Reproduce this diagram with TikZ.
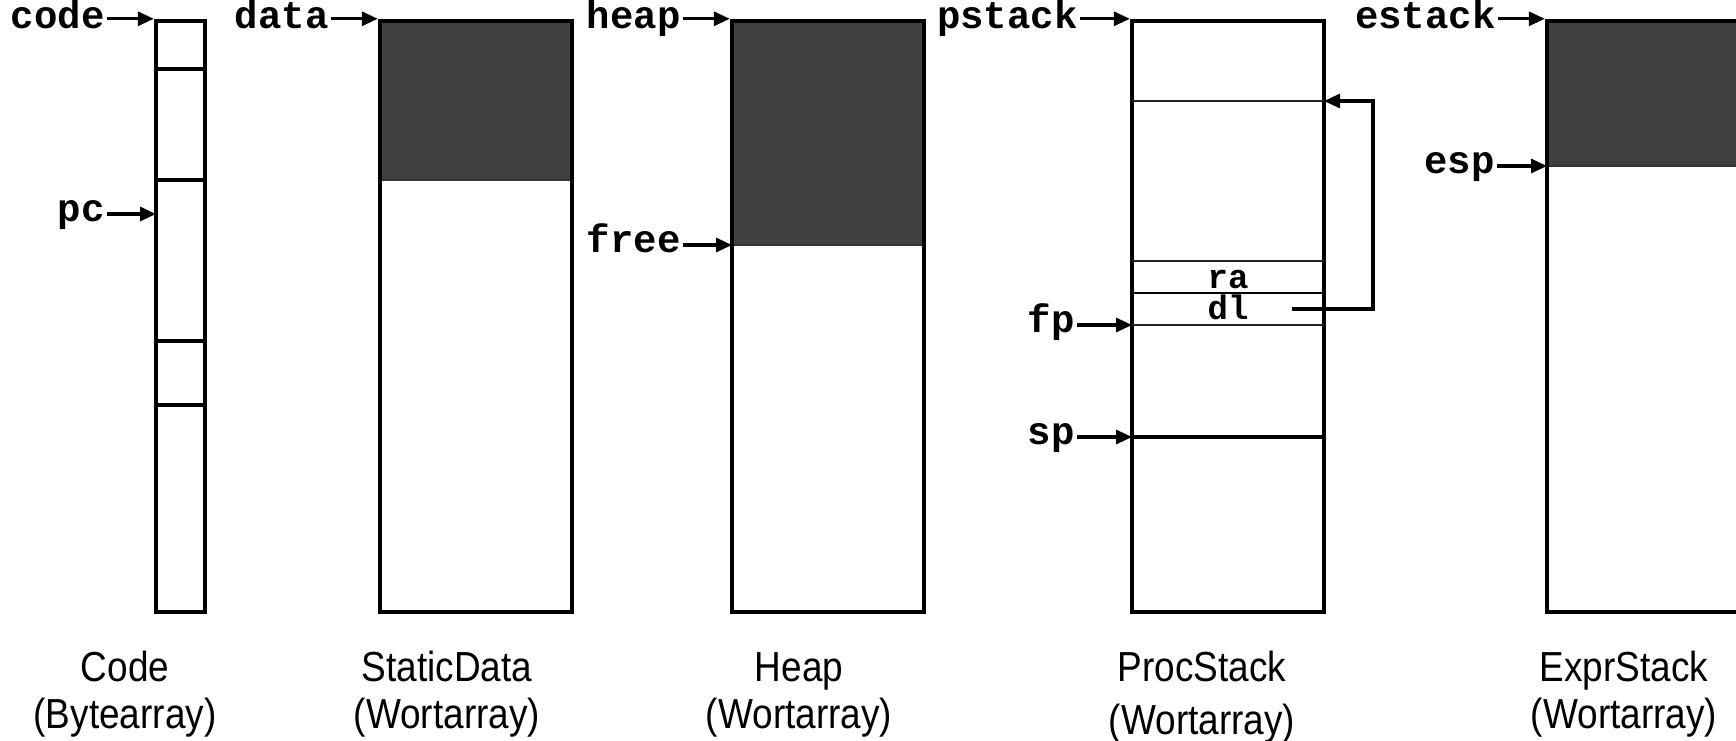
\documentclass[tikz,border=0pt]{standalone}
\usepackage{fontspec}
\usetikzlibrary{arrows.meta,fit}
\newfontfamily\capfont[FakeStretch=0.88]{Liberation Sans}
\newfontfamily\ptrfont{Liberation Mono}
\definecolor{used}{HTML}{404040}
\begin{document}
\begin{tikzpicture}[x=0.5pt,y=-0.5pt,
  mem/.style={draw=black,line width=2.2pt,inner sep=0pt},
  usedarea/.style={fill=used,draw=black!80,line width=0.6pt},
  divider/.style={draw=black,line width=1.6pt},
  thindiv/.style={draw=black!85,line width=0.9pt},
  ptr/.style={font=\ptrfont\bfseries\fontsize{19.5}{19.5}\selectfont,anchor=base east,inner sep=1pt},
  slot/.style={font=\ptrfont\bfseries\fontsize{17}{17}\selectfont,anchor=base,inner sep=0pt},
  ptrarrow/.style={line width=1.6pt,-{Triangle[length=8pt,width=7pt]}},
  link/.style={line width=1.6pt,-{Triangle[length=8pt,width=7pt]}},
  captxt/.style={font=\capfont\fontsize{21}{22}\selectfont,anchor=base,inner sep=0pt}]
\clip (0,0) rectangle (1736,740);

% ---- Code (byte array)
\node[mem,fit={(156,21) (205,612)}] (code) {};
\draw[divider] (156,69) -- (205,69);
\draw[divider] (156,180) -- (205,180);
\draw[divider] (156,341) -- (205,341);
\draw[divider] (156,405) -- (205,405);
\coordinate (pcpt) at (156,214);
\node[ptr] (lcode) at (107,28) {code};
\node[ptr] (lpc) at (107,221) {pc};
\draw[ptrarrow] (lcode.east |- code.north west) -- (code.north west);
\draw[ptrarrow] (lpc.east |- pcpt) -- (pcpt);
\node[captxt] (capcode) at (125,681) {Code};
\node[captxt] (capcodesub) at (125,728) {(Bytearray)};

% ---- StaticData
\fill[usedarea] (380,21) rectangle (572,180);
\node[mem,fit={(380,21) (572,612)}] (data) {};
\node[ptr] (ldata) at (331,28) {data};
\draw[ptrarrow] (ldata.east |- data.north west) -- (data.north west);
\node[captxt] (capdata) at (447,681) {StaticData};
\node[captxt] (capdatasub) at (447,728) {(Wortarray)};

% ---- Heap
\fill[usedarea] (732,21) rectangle (924,245);
\node[mem,fit={(732,21) (924,612)}] (heap) {};
\coordinate (freept) at (732,245);
\node[ptr] (lheap) at (683,28) {heap};
\node[ptr] (lfree) at (683,252) {free};
\draw[ptrarrow] (lheap.east |- heap.north west) -- (heap.north west);
\draw[ptrarrow] (lfree.east |- freept) -- (freept);
\node[captxt] (capheap) at (799,681) {Heap};
\node[captxt] (capheapsub) at (799,728) {(Wortarray)};

% ---- ProcStack
\node[mem,fit={(1132,21) (1324,612)}] (pstack) {};
\draw[thindiv] (1132,101) -- (1324,101);
\draw[thindiv] (1132,261) -- (1324,261);
\draw[divider,line width=1.2pt] (1132,293) -- (1324,293);
\draw[thindiv] (1132,325) -- (1324,325);
\draw[divider] (1132,437) -- (1324,437);
\node[slot] (ra) at (1228,288) {ra};
\node[slot] (dl) at (1228,319) {dl};
\coordinate (fppt) at (1132,325);
\coordinate (sppt) at (1132,437);
\coordinate (dlsrc) at (1292,309);
\coordinate (dltgt) at (1324,101);
\node[ptr] (lpstack) at (1080,28) {pstack};
\node[ptr] (lfp) at (1077,332) {fp};
\node[ptr] (lsp) at (1077,444) {sp};
\draw[ptrarrow] (lpstack.east |- pstack.north west) -- (pstack.north west);
\draw[ptrarrow] (lfp.east |- fppt) -- (fppt);
\draw[ptrarrow] (lsp.east |- sppt) -- (sppt);
\draw[link] (dlsrc) -- ++(81,0) |- (dltgt);
\node[captxt] (cappstack) at (1202,681) {ProcStack};
\node[captxt] (cappstacksub) at (1202,734) {(Wortarray)};

% ---- ExprStack
\fill[usedarea] (1547,21) rectangle (1739,166);
\node[mem,fit={(1547,21) (1739,612)}] (estack) {};
\coordinate (esppt) at (1547,166);
\node[ptr] (lestack) at (1498,28) {estack};
\node[ptr] (lesp) at (1497,173) {esp};
\draw[ptrarrow] (lestack.east |- estack.north west) -- (estack.north west);
\draw[ptrarrow] (lesp.east |- esppt) -- (esppt);
\node[captxt] (capestack) at (1624,681) {ExprStack};
\node[captxt] (capestacksub) at (1624,728) {(Wortarray)};
\end{tikzpicture}
\end{document}
